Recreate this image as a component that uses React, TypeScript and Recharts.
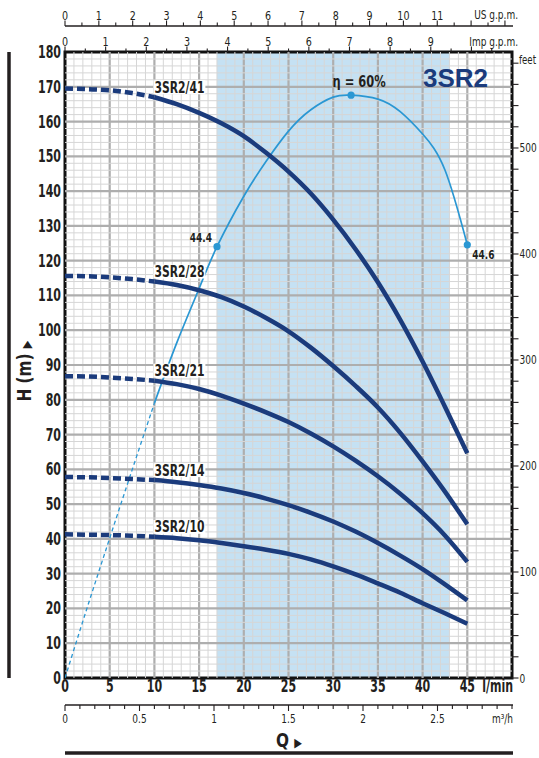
import React from 'react';
import {
  ComposedChart,
  Line,
  XAxis,
  YAxis,
  ReferenceLine,
  ReferenceArea,
  LabelList,
} from 'recharts';

// flow (l/min) where the curves are read
const startFlow = [0, 2.5, 5, 7.5, 10];
const runFlow = [10, 12.5, 15, 17.5, 20, 22.5, 25, 27.5, 30, 32.5, 35, 37.5, 40, 42.5, 45];

// head H (m) per model
const head41Start = [169.5, 169.3, 169, 168.2, 167];
const head41Run = [167, 165, 162.5, 159.5, 155.8, 151, 145.6, 139.3, 131.8, 123.3, 113.8, 103, 91, 78, 64.6];
const head28Start = [115.6, 115.5, 115.2, 114.7, 114];
const head28Run = [114, 113, 111.5, 109.5, 106.8, 103.5, 99.7, 95, 89.7, 84, 77.8, 70.5, 62.3, 53.6, 44.2];
const head21Start = [86.8, 86.7, 86.4, 86, 85.5];
const head21Run = [85.5, 84.5, 83.1, 81.2, 78.9, 76.4, 73.6, 70.3, 66.6, 62.5, 58, 53, 47.4, 41, 33.4];
const head14Start = [57.8, 57.7, 57.5, 57.2, 56.9];
const head14Run = [56.9, 56.3, 55.5, 54.5, 53.2, 51.6, 49.7, 47.5, 45, 42.1, 38.8, 35.2, 31.3, 26.9, 22.3];
const head10Start = [41.3, 41.2, 41.1, 40.9, 40.6];
const head10Run = [40.6, 40.2, 39.6, 38.8, 37.9, 36.9, 35.7, 34.1, 32.1, 29.8, 27.2, 24.5, 21.5, 18.6, 15.6];

const models = ['3SR2/41', '3SR2/28', '3SR2/21', '3SR2/14', '3SR2/10'];

// efficiency (%)
const effStartFlow = [0, 2.5, 5, 7.5, 10];
const effStart = [0, 7.3, 14.4, 21.4, 28.3];
const effRunFlow = [10, 12.5, 15, 17, 20, 22.5, 25, 27.5, 30, 32, 35, 37.5, 40, 42.5, 45];
const effRun = [28.3, 34.5, 40.1, 44.4, 49.6, 53.2, 56.3, 58.5, 59.8, 60, 59.6, 58.3, 56, 52.3, 44.6];
const effMarked = [17, 32, 45];

// recommended range (l/min)
const rangeFrom = 17;
const rangeTo = 43;

// axes
const Q_MAX = 50;
const H_MAX = 180;
const qTicks = [0, 5, 10, 15, 20, 25, 30, 35, 40, 45];
const hTicks = [0, 10, 20, 30, 40, 50, 60, 70, 80, 90, 100, 110, 120, 130, 140, 150, 160, 170, 180];
const usLabels = [0, 1, 2, 3, 4, 5, 6, 7, 8, 9, 10, 11];
const impLabels = [0, 1, 2, 3, 4, 5, 6, 7, 8, 9];
const m3Labels = [0, 0.5, 1, 1.5, 2, 2.5];
const ftLabels = [0, 100, 200, 300, 400, 500];

const steps = (from: number, to: number, step: number) => {
  const out: number[] = [];
  for (let v = from; v <= to + 1e-9; v += step) out.push(Math.round(v * 100) / 100);
  return out;
};

const usTicks = steps(0, 13, 0.5);
const impTicks = steps(0, 10.5, 0.5);
const m3Ticks = steps(0, 3, 0.1);
const ftTicks = steps(0, 580, 20);
const gridQ = steps(1, 49, 1);
const gridH = steps(2, 178, 2);

// layout (px)
const PLOT_LEFT = 65;
const PLOT_RIGHT = 512;
const PLOT_TOP = 52;
const PLOT_BOTTOM = 678;
const US_Y = 26;
const M3_Y = 705;

const NAVY = '#1b3b7c';
const CYAN = '#2a97d3';
const INK = '#231f20';
const FONT = '"DejaVu Sans Condensed", "DejaVu Sans", sans-serif';

const pts = (xs: number[], ys: number[]) => xs.map((q, i) => ({ q, h: ys[i] }));

const pumps = [
  { name: models[0], start: pts(startFlow, head41Start), run: pts(runFlow, head41Run) },
  { name: models[1], start: pts(startFlow, head28Start), run: pts(runFlow, head28Run) },
  { name: models[2], start: pts(startFlow, head21Start), run: pts(runFlow, head21Run) },
  { name: models[3], start: pts(startFlow, head14Start), run: pts(runFlow, head14Run) },
  { name: models[4], start: pts(startFlow, head10Start), run: pts(runFlow, head10Run) },
];

const effStartData = effStartFlow.map((q, i) => ({ q, e: effStart[i] }));
const effRunData = effRunFlow.map((q, i) => ({ q, e: effRun[i] }));

const isInt = (v: number) => Math.abs(v - Math.round(v)) < 1e-6;

// condensed text: the source uses a narrow face
function NText({ x, y, size, bold, anchor = 'start', sx = 0.8, rotate = 0, fill = INK, children }: any) {
  return (
    <text
      transform={`translate(${x} ${y}) rotate(${rotate}) scale(${sx} 1)`}
      textAnchor={anchor}
      fontFamily={FONT}
      fontWeight={bold ? 'bold' : 'normal'}
      fontSize={size}
      fill={fill}
    >
      {children}
    </text>
  );
}

const topTick = (labels: number[], lineY: number) => (p: any) => {
  const { x, payload } = p;
  const v = payload.value;
  const major = isInt(v);
  return (
    <g>
      <line x1={x} x2={x} y1={lineY} y2={lineY - (major ? 5.5 : 3.5)} stroke={INK} strokeWidth={1.1} />
      {labels.includes(v) && (
        <NText x={x} y={lineY - 6.5} size={12.5} sx={0.85} anchor="middle">
          {v}
        </NText>
      )}
    </g>
  );
};

const m3Tick = (p: any) => {
  const { x, payload } = p;
  const v = payload.value;
  const major = m3Labels.includes(v);
  return (
    <g>
      <line x1={x} x2={x} y1={M3_Y} y2={M3_Y + (major ? 6 : 4)} stroke={INK} strokeWidth={1.1} />
      {major && (
        <NText x={x} y={M3_Y + 17.5} size={12.5} sx={0.8} anchor="middle">
          {v}
        </NText>
      )}
    </g>
  );
};

const qTick = (p: any) => {
  const { x, payload } = p;
  return (
    <NText x={x} y={PLOT_BOTTOM + 14} size={17} bold sx={0.72} anchor="middle">
      {payload.value}
    </NText>
  );
};

const hTick = (p: any) => {
  const { y, payload } = p;
  return (
    <NText x={PLOT_LEFT - 4} y={y + 6} size={17} bold sx={0.72} anchor="end">
      {payload.value}
    </NText>
  );
};

const ftTick = (p: any) => {
  const { y, payload } = p;
  const v = payload.value;
  return (
    <g>
      <line x1={PLOT_RIGHT} x2={PLOT_RIGHT + 6.5} y1={y} y2={y} stroke={INK} strokeWidth={1.1} />
      {ftLabels.includes(v) && (
        <NText x={PLOT_RIGHT + 7.5} y={y + 4.5} size={12.5} sx={0.8}>
          {v}
        </NText>
      )}
    </g>
  );
};

const pumpLabel = (name: string) => (p: any) => {
  const { x, y, index } = p;
  if (index !== 0) return null;
  return (
    <g>
      <rect x={x - 1} y={y - 17} width={52} height={14} fill="#fff" />
      <NText x={x} y={y - 4.5} size={15} bold sx={0.8}>
        {name}
      </NText>
    </g>
  );
};

const effDot = (p: any) => {
  const { cx, cy, payload, index } = p;
  if (!effMarked.includes(payload.q)) return <g key={index} />;
  return <circle key={index} cx={cx} cy={cy} r={3.6} fill={CYAN} />;
};

const effLabel = (p: any) => {
  const { x, y, index, value } = p;
  const q = effRunFlow[index];
  if (!effMarked.includes(q)) return null;
  if (q === effMarked[0])
    return (
      <NText x={x - 5} y={y - 5} size={12.5} bold sx={0.8} anchor="end">
        {value}
      </NText>
    );
  if (q === effMarked[2])
    return (
      <NText x={x + 5} y={y + 14} size={12.5} bold sx={0.8}>
        {value}
      </NText>
    );
  return (
    <NText x={x + 8} y={y - 8} size={15} bold sx={0.85} anchor="middle">
      {`η = ${value}%`}
    </NText>
  );
};

export default function App() {
  return (
    <div style={{ position: 'absolute', left: 0, top: 0, width: 539, height: 758, background: '#fff' }}>
      <ComposedChart
        width={539}
        height={758}
        data={effRunData}
        margin={{ top: 0, right: 0, bottom: 0, left: 0 }}
      >
        <XAxis
          xAxisId="imp"
          dataKey="q"
          orientation="top"
          type="number"
          domain={[0, Q_MAX / 4.54609]}
          allowDataOverflow
          ticks={impTicks}
          interval={0}
          height={26}
          axisLine={false}
          tickLine={false}
          tick={topTick(impLabels, PLOT_TOP)}
        />
        <XAxis
          xAxisId="us"
          dataKey="q"
          orientation="top"
          type="number"
          domain={[0, Q_MAX / 3.785412]}
          allowDataOverflow
          ticks={usTicks}
          interval={0}
          height={26}
          axisLine={false}
          tickLine={false}
          tick={topTick(usLabels, US_Y)}
        />
        <XAxis
          xAxisId="q"
          dataKey="q"
          type="number"
          domain={[0, Q_MAX]}
          allowDataOverflow
          ticks={qTicks}
          interval={0}
          height={27}
          axisLine={false}
          tickLine={false}
          tick={qTick}
        />
        <XAxis
          xAxisId="m3"
          dataKey="q"
          type="number"
          domain={[0, 3]}
          allowDataOverflow
          ticks={m3Ticks}
          interval={0}
          height={53}
          axisLine={false}
          tickLine={false}
          tick={m3Tick}
        />
        <YAxis
          yAxisId="h"
          type="number"
          domain={[0, H_MAX]}
          allowDataOverflow
          ticks={hTicks}
          interval={0}
          width={65}
          axisLine={false}
          tickLine={false}
          tick={hTick}
        />
        <YAxis
          yAxisId="ft"
          orientation="right"
          type="number"
          domain={[0, H_MAX / 0.3048]}
          allowDataOverflow
          ticks={ftTicks}
          interval={0}
          width={27}
          axisLine={false}
          tickLine={false}
          tick={ftTick}
        />
        <YAxis yAxisId="eff" hide type="number" domain={[0, H_MAX / 2.793]} allowDataOverflow />

        {gridQ.map((v) => (
          <ReferenceLine
            key={`gq${v}`}
            xAxisId="q"
            yAxisId="h"
            x={v}
            stroke={v % 5 === 0 ? '#aeaeae' : '#d6d6d6'}
            strokeWidth={v % 5 === 0 ? 2.2 : 1}
          />
        ))}
        {gridH.map((v) => (
          <ReferenceLine
            key={`gh${v}`}
            xAxisId="q"
            yAxisId="h"
            y={v}
            stroke={v % 10 === 0 ? '#aeaeae' : '#d6d6d6'}
            strokeWidth={v % 10 === 0 ? 2.2 : 1}
          />
        ))}
        <ReferenceArea
          xAxisId="q"
          yAxisId="h"
          x1={rangeFrom}
          x2={rangeTo}
          y1={0}
          y2={H_MAX}
          fill="#8cc4e8"
          fillOpacity={0.5}
          stroke="none"
        />

        <Line
          data={effStartData}
          dataKey="e"
          xAxisId="q"
          yAxisId="eff"
          type="monotone"
          stroke={CYAN}
          strokeWidth={1.3}
          strokeDasharray="4 3"
          dot={false}
          isAnimationActive={false}
        />
        <Line
          data={effRunData}
          dataKey="e"
          xAxisId="q"
          yAxisId="eff"
          type="natural"
          stroke={CYAN}
          strokeWidth={1.7}
          dot={effDot}
          isAnimationActive={false}
        >
          <LabelList dataKey="e" content={effLabel} />
        </Line>

        {pumps.map((p) => (
          <Line
            key={`${p.name}-s`}
            data={p.start}
            dataKey="h"
            xAxisId="q"
            yAxisId="h"
            type="monotone"
            stroke={NAVY}
            strokeWidth={4.5}
            strokeDasharray="8 4"
            dot={false}
            isAnimationActive={false}
          />
        ))}
        {pumps.map((p) => (
          <Line
            key={`${p.name}-r`}
            data={p.run}
            dataKey="h"
            xAxisId="q"
            yAxisId="h"
            type="monotone"
            stroke={NAVY}
            strokeWidth={4.5}
            dot={false}
            isAnimationActive={false}
          >
            <LabelList dataKey="h" content={pumpLabel(p.name)} />
          </Line>
        ))}

        <ReferenceArea
          xAxisId="q"
          yAxisId="h"
          x1={0}
          x2={Q_MAX}
          y1={0}
          y2={H_MAX}
          fill="none"
          stroke="#111"
          strokeWidth={3}
        />
      </ComposedChart>

      <svg
        width={539}
        height={758}
        style={{ position: 'absolute', left: 0, top: 0, pointerEvents: 'none' }}
      >
        <line x1={PLOT_LEFT} x2={PLOT_RIGHT + 1} y1={US_Y} y2={US_Y} stroke={INK} strokeWidth={1.4} />
        <line x1={PLOT_LEFT} x2={PLOT_RIGHT + 1} y1={M3_Y} y2={M3_Y} stroke={INK} strokeWidth={1.4} />
        <NText x={518} y={19} size={12.5} sx={0.8} anchor="end">US g.p.m.</NText>
        <NText x={518} y={45.5} size={12.5} sx={0.8} anchor="end">Imp g.p.m.</NText>
        <NText x={519} y={63.5} size={12} sx={0.8}>feet</NText>
        <NText x={513} y={692} size={17} bold sx={0.72} anchor="end">l/min</NText>
        <NText x={513} y={722.5} size={12.5} sx={0.8} anchor="end">m³/h</NText>
        <NText x={289} y={747} size={20} bold sx={0.85} anchor="middle">
          Q <tspan fontSize={13}>▶</tspan>
        </NText>
        <line x1={PLOT_LEFT} x2={PLOT_RIGHT + 1} y1={753} y2={753} stroke={INK} strokeWidth={3.5} />
        <line x1={9} x2={9} y1={PLOT_TOP} y2={PLOT_BOTTOM} stroke={INK} strokeWidth={3.5} />
        <NText x={31} y={371} size={20} bold sx={0.85} anchor="middle" rotate={-90}>
          H (m) <tspan fontSize={13}>▶</tspan>
        </NText>
        <text x={423} y={87} fontFamily='"Liberation Sans", Arial, sans-serif' fontWeight="bold" fontSize={26} fill={NAVY}>
          3SR2
        </text>
      </svg>
    </div>
  );
}
